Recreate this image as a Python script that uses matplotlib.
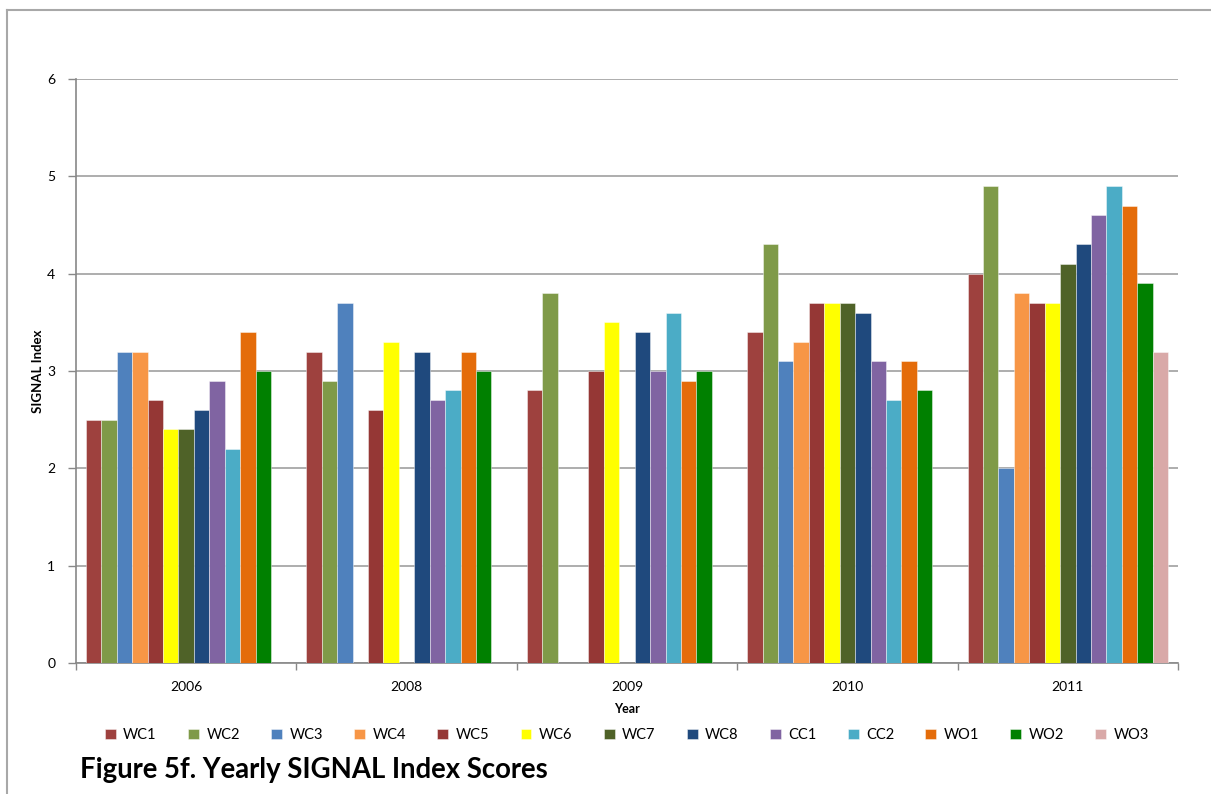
import numpy as np
import matplotlib
matplotlib.use("Agg")
import matplotlib.pyplot as plt
from matplotlib.lines import Line2D

plt.rcParams['font.family'] = ['Lato', 'DejaVu Sans']

years = ["2006", "2008", "2009", "2010", "2011"]
sites = ["WC1", "WC2", "WC3", "WC4", "WC5", "WC6", "WC7", "WC8",
         "CC1", "CC2", "WO1", "WO2", "WO3"]
nan = np.nan

wc1 = [2.5, 3.2, 2.8, 3.4, 4.0]
wc2 = [2.5, 2.9, 3.8, 4.3, 4.9]
wc3 = [3.2, 3.7, nan, 3.1, 2.0]
wc4 = [3.2, nan, nan, 3.3, 3.8]
wc5 = [2.7, 2.6, 3.0, 3.7, 3.7]
wc6 = [2.4, 3.3, 3.5, 3.7, 3.7]
wc7 = [2.4, nan, nan, 3.7, 4.1]
wc8 = [2.6, 3.2, 3.4, 3.6, 4.3]
cc1 = [2.9, 2.7, 3.0, 3.1, 4.6]
cc2 = [2.2, 2.8, 3.6, 2.7, 4.9]
wo1 = [3.4, 3.2, 2.9, 3.1, 4.7]
wo2 = [3.0, 3.0, 3.0, 2.8, 3.9]
wo3 = [nan, nan, nan, nan, 3.2]

series = [wc1, wc2, wc3, wc4, wc5, wc6, wc7, wc8, cc1, cc2, wo1, wo2, wo3]
colors = ["#9E413E", "#7F9A48", "#4F81BD", "#F79646", "#953735", "#FFFF00",
          "#4F6228", "#1F497D", "#8064A2", "#4BACC6", "#E46C0A", "#008000",
          "#D9A9A8"]

W, H = 1211, 794
fig = plt.figure(figsize=(W / 100, H / 100), dpi=100)
ax = fig.add_axes([76 / W, 1 - 663 / H, (1178 - 76) / W, (663 - 79) / H])

x = np.arange(len(years))
bw = 0.0699
n = len(series)
for i, (vals, c, name) in enumerate(zip(series, colors, sites)):
    ax.bar(x + (i - (n - 1) / 2) * bw, vals, width=bw, color=c,
           edgecolor=(1, 1, 1, 0.6), linewidth=0.5, label=name, zorder=3)

ax.set_xlim(-0.5, len(years) - 0.5)
ax.set_ylim(0, 6)
ax.set_yticks(range(0, 7))
ax.yaxis.grid(True, color="#A0A0A0", linewidth=1.2, zorder=0)
ax.set_axisbelow(True)

# group boundaries carry the tick marks, group centres carry the labels
ax.set_xticks(np.arange(-0.5, len(years)), labels=[""] * (len(years) + 1))
ax.set_xticks(x, labels=years, minor=True)
ax.tick_params(axis="x", which="major", length=5, width=1, color="#888888",
               direction="out")
ax.tick_params(axis="x", which="minor", length=0, pad=13, labelsize=10)
ax.tick_params(axis="y", length=6, width=1, color="#888888", pad=9,
               labelsize=10)

for s in ["top", "right"]:
    ax.spines[s].set_visible(False)
for s in ["left", "bottom"]:
    ax.spines[s].set_color("#888888")
    ax.spines[s].set_linewidth(1.2)

ax.set_xlabel("Year", fontsize=9, fontweight="bold", labelpad=7)
ax.set_ylabel("SIGNAL Index", fontsize=9.5, fontweight="bold", labelpad=2)

fig.legend(loc="center", bbox_to_anchor=(627 / W, 1 - 735 / H), ncol=n,
           frameon=False, fontsize=10.5, handlelength=0.75, handleheight=0.75,
           handletextpad=0.5, columnspacing=2.15)

fig.text(80 / W, 1 - 770 / H, "Figure 5f. Yearly SIGNAL Index Scores",
         fontsize=19.8, fontweight="bold", va="center", ha="left")

# outer frame (left and top edges)
fig.add_artist(Line2D([7 / W, 7 / W], [0, 1 - 10 / H], transform=fig.transFigure,
                      color="#A8A8A8", linewidth=1.5))
fig.add_artist(Line2D([7 / W, 1], [1 - 10 / H, 1 - 10 / H], transform=fig.transFigure,
                      color="#A8A8A8", linewidth=1.5))

fig.savefig("out.png", dpi=100, facecolor="white")
